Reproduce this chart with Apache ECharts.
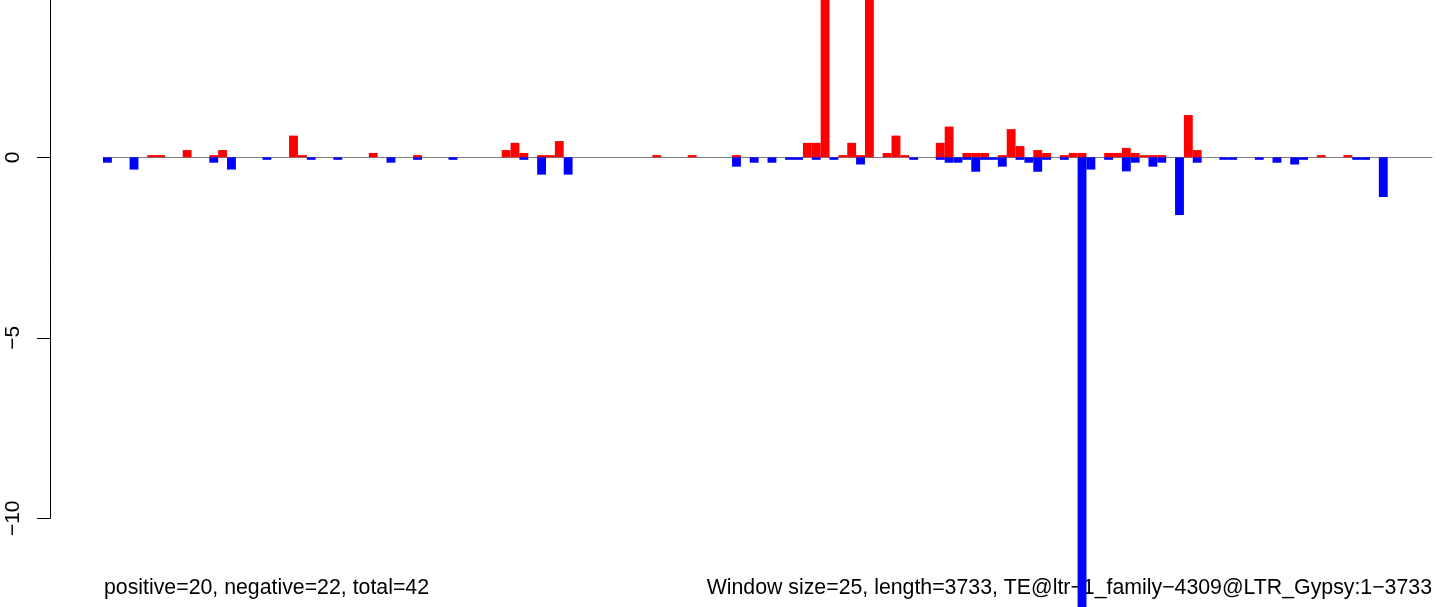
<!DOCTYPE html>
<html>
<head>
<meta charset="utf-8">
<style>
    html, body { margin: 0; padding: 0; background: #fff; }
    .box1 { width: 1444px; height: 607px; }
</style>
<script src="https://cdn.jsdelivr.net/npm/echarts@6/dist/echarts.min.js"></script>
</head>
<body>
<div class="box1"></div>
<script>
// per-window scores, 150 windows of 25 bp
var pos = [
    0, 0, 0, 0, 0, 0.06, 0.06, 0, 0, 0.2,
    0, 0, 0.06, 0.2, 0, 0, 0, 0, 0, 0,
    0, 0.6, 0.06, 0, 0, 0, 0, 0, 0, 0,
    0.12, 0, 0, 0, 0, 0.06, 0, 0, 0, 0,
    0, 0, 0, 0, 0, 0.2, 0.4, 0.12, 0, 0.06,
    0.06, 0.45, 0, 0, 0, 0, 0, 0, 0, 0,
    0, 0, 0.06, 0, 0, 0, 0.06, 0, 0, 0,
    0, 0.06, 0, 0, 0, 0, 0, 0, 0, 0.4,
    0.4, 6, 0, 0.06, 0.4, 0.06, 6, 0, 0.12, 0.6,
    0.06, 0, 0, 0, 0.4, 0.85, 0, 0.12, 0.12, 0.12,
    0, 0.06, 0.78, 0.31, 0, 0.2, 0.12, 0, 0.06, 0.12,
    0.12, 0, 0, 0.12, 0.12, 0.26, 0.12, 0.06, 0.06, 0.06,
    0, 0, 1.17, 0.2, 0, 0, 0, 0, 0, 0,
    0, 0, 0, 0, 0, 0, 0, 0.06, 0, 0,
    0.06, 0, 0, 0, 0, 0, 0, 0, 0, 0
];
var neg = [
    -0.15, 0, 0, -0.34, 0, 0, 0, 0, 0, 0,
    0, 0, -0.15, 0, -0.34, 0, 0, 0, -0.07, 0,
    0, 0, 0, -0.07, 0, 0, -0.07, 0, 0, 0,
    0, 0, -0.15, 0, 0, -0.07, 0, 0, 0, -0.07,
    0, 0, 0, 0, 0, 0, 0, -0.07, 0, -0.48,
    0, 0, -0.48, 0, 0, 0, 0, 0, 0, 0,
    0, 0, 0, 0, 0, 0, 0, 0, 0, 0,
    0, -0.26, 0, -0.15, 0, -0.15, 0, -0.07, -0.07, 0,
    -0.07, 0, -0.07, 0, 0, -0.2, 0, 0, 0, 0,
    0, -0.07, 0, 0, -0.07, -0.15, -0.15, -0.07, -0.4, -0.07,
    -0.07, -0.26, 0, -0.07, -0.15, -0.4, -0.07, 0, -0.07, 0,
    -14, -0.34, 0, -0.07, 0, -0.39, -0.15, 0, -0.26, -0.15,
    0, -1.6, 0, -0.15, 0, 0, -0.07, -0.07, 0, 0,
    -0.07, 0, -0.15, 0, -0.2, -0.07, 0, 0, 0, 0,
    0, -0.07, -0.07, 0, -1.1, 0, 0, 0, 0, 0
];
var yTicks = [-10, -5, 0];
var leftNote = 'positive=20, negative=22, total=42';
var rightNote = 'Window size=25, length=3733, TE@ltr\u22121_family\u22124309@LTR_Gypsy:1\u22123733';

var windows = [];
for (var i = 1; i <= pos.length; i++) windows.push(i);

var myBox1 = echarts.init(document.querySelector('.box1'));
var font = '"Liberation Sans", Arial, sans-serif';

var optionBox1 = {
    animation: false,
    grid: [
        { left: 103, top: 0, width: 1329, height: 607, outerBoundsMode: 'none' },
        { left: 50, top: -23.2, width: 10, height: 541.5, outerBoundsMode: 'none' }
    ],
    xAxis: [{
        type: 'category',
        gridIndex: 0,
        data: windows,
        axisLine: { onZero: true, lineStyle: { color: '#808080', width: 1 } },
        axisTick: { show: false },
        axisLabel: { show: false }
    }, {
        type: 'value',
        gridIndex: 1,
        show: false
    }],
    yAxis: [{
        type: 'value',
        gridIndex: 0,
        min: -12.457,
        max: 4.357,
        show: false
    }, {
        type: 'value',
        gridIndex: 1,
        min: -10,
        max: 5,
        interval: 5,
        splitLine: { show: false },
        axisLine: { show: true, lineStyle: { color: '#000', width: 1 } },
        axisTick: { show: true, length: 13, lineStyle: { color: '#000', width: 1 } },
        axisLabel: {
            rotate: 90,
            margin: 26,
            fontSize: 21,
            fontFamily: font,
            color: '#000',
            formatter: function(v) {
                return yTicks.indexOf(v) >= 0 ? String(v).replace('-', '\u2212') : '';
            }
        }
    }],
    graphic: [{
        type: 'text',
        left: 104,
        top: 578,
        style: { text: leftNote, font: '21.3px ' + font, fill: '#000' }
    }, {
        type: 'text',
        right: 12,
        top: 578,
        style: { text: rightNote, font: '21.3px ' + font, fill: '#000' }
    }],
    series: [{
        type: 'bar',
        data: pos,
        barGap: '-100%',
        barCategoryGap: 0,
        itemStyle: { color: '#ff0000' }
    }, {
        type: 'bar',
        data: neg,
        barGap: '-100%',
        barCategoryGap: 0,
        itemStyle: { color: '#0000ff' }
    }]
};
myBox1.setOption(optionBox1);
</script>
</body>
</html>
